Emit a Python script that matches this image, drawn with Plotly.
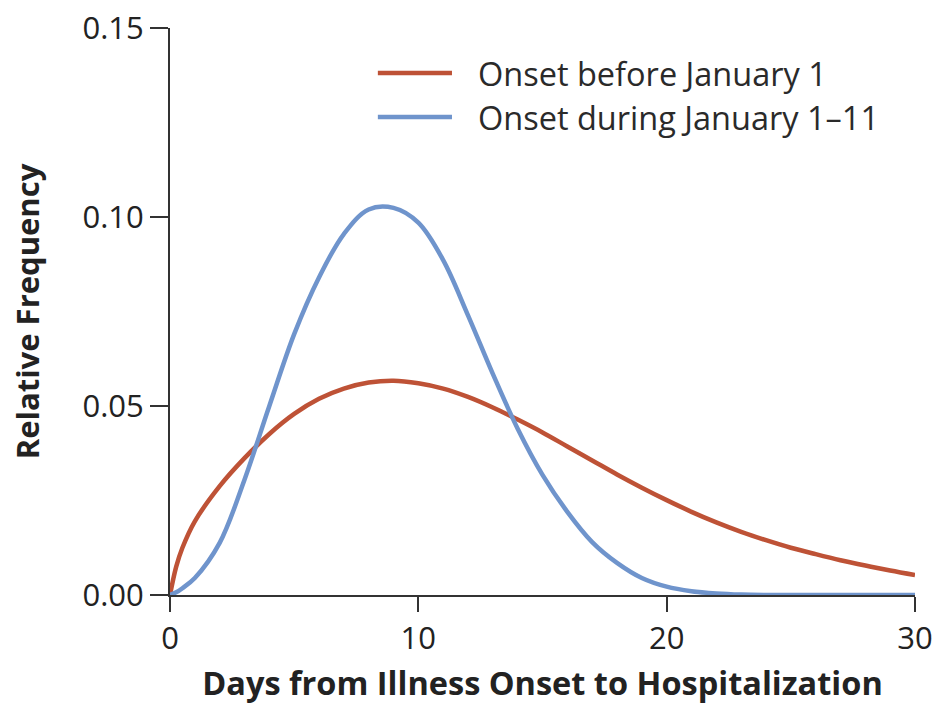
import plotly.graph_objects as go

days = [0, 0.25, 0.5] + list(range(1, 31))
onset_before_jan1 = [0.000, 0.0075, 0.0125,
                     0.0195, 0.0288, 0.0362, 0.0426, 0.0479, 0.0519, 0.0546, 0.0562, 0.0567,
                     0.0560, 0.0546, 0.0524, 0.0496, 0.0464, 0.0430, 0.0393, 0.0356, 0.0319, 0.0284,
                     0.0251, 0.0220, 0.0192, 0.0167, 0.0145, 0.0125, 0.0108, 0.0092, 0.0078, 0.0065,
                     0.0053]
onset_jan1_11 = [0.000, 0.0007, 0.0018,
                 0.0045, 0.0138, 0.0305, 0.0500, 0.0690, 0.0840, 0.0955, 0.1020, 0.1024,
                 0.0985, 0.0886, 0.0740, 0.0585, 0.0440, 0.0318, 0.0220, 0.0140, 0.0085, 0.0045,
                 0.0022, 0.0010, 0.0004, 0.0001, 0.0, 0.0, 0.0, 0.0, 0.0, 0.0,
                 0.0]
series_names = ["Onset before January 1", "Onset during January 1\u201311"]
x_ticks = [0, 10, 20, 30]
y_ticks = [0.00, 0.05, 0.10, 0.15]
y_tick_labels = ["0.00", "0.05", "0.10", "0.15"]

RED = "#BE5236"
BLUE = "#6F94CC"
FONT = "Open Sans"
colors = [RED, BLUE]

fig = go.Figure()
for name, ys, c in zip(series_names, [onset_before_jan1, onset_jan1_11], colors):
    fig.add_trace(go.Scatter(x=days, y=ys, mode="lines", name=name,
                             line=dict(color=c, width=4.5, shape="spline", smoothing=1.0),
                             cliponaxis=False, showlegend=False))

# custom legend (longer line samples than the native legend allows)
legend_rows_y = [0.9206, 0.843]
for name, c, yy in zip(series_names, colors, legend_rows_y):
    fig.add_shape(type="line", xref="paper", yref="paper", x0=0.279, x1=0.3785, y0=yy, y1=yy,
                  line=dict(color=c, width=4.5))
    fig.add_annotation(xref="paper", yref="paper", x=0.411, y=yy, text=name, showarrow=False,
                       xanchor="left", yanchor="middle",
                       font=dict(size=32.5, family=FONT, color="#2a2a2a"))

fig.update_layout(
    width=935, height=705,
    margin=dict(l=170, r=20, t=28, b=110, autoexpand=False),
    paper_bgcolor="white", plot_bgcolor="white",
    font=dict(family=FONT, color="#222222"),
    showlegend=False,
)
fig.update_xaxes(
    range=[0, 30], tickvals=x_ticks, ticktext=[str(v) for v in x_ticks],
    showgrid=False, zeroline=False, showline=True, linecolor="#333333", linewidth=2,
    ticks="outside", ticklen=15, tickwidth=2, tickcolor="#333333",
    tickfont=dict(size=31, family=FONT, color="#222222"), automargin=False,
    ticklabeloverflow="allow",
    title=dict(text="<b>Days from Illness Onset to Hospitalization</b>",
               font=dict(size=32.5, family=FONT, color="#222222"), standoff=22),
)
fig.update_yaxes(
    range=[0, 0.15], tickvals=y_ticks, ticktext=y_tick_labels,
    showgrid=False, zeroline=False, showline=True, linecolor="#333333", linewidth=2,
    ticks="outside", ticklen=18, tickwidth=2, tickcolor="#333333",
    tickfont=dict(size=31, family=FONT, color="#222222"), automargin=False,
    ticklabeloverflow="allow",
    title=dict(text="<b>Relative Frequency</b>",
               font=dict(size=31, family=FONT, color="#222222"), standoff=34),
)

# remove the browser's default 8px body margin so the figure fills the window exactly
fig.write_html("out.html", config={"displayModeBar": False},
               post_script="document.body.style.margin='0';")
